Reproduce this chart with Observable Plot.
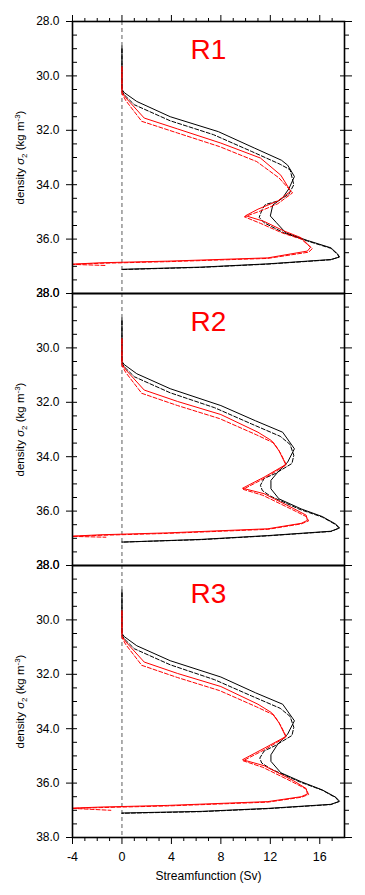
<!DOCTYPE html>
<html><head><meta charset="utf-8">
<script src="https://cdn.jsdelivr.net/npm/d3@7"></script>
<script src="https://cdn.jsdelivr.net/npm/@observablehq/plot@0.6"></script>
<style>
body{margin:0;background:#fff;}
#chart{width:365px;height:895px;}
</style></head><body><div id="chart"></div>
<script>
// ---- data: [streamfunction (Sv), density sigma2] ----
const panels = ["R1", "R2", "R3"];
const xTicksMajor = [-4, 0, 4, 8, 12, 16];
const xTicksMinor = [-3, -2, -1, 1, 2, 3, 5, 6, 7, 9, 10, 11, 13, 14, 15, 17];
const yTicksMajor = [28, 30, 32, 34, 36, 38];
const yTicksMinor = [28.5, 29, 29.5, 30.5, 31, 31.5, 32.5, 33, 33.5, 34.5, 35, 35.5, 36.5, 37, 37.5];

const r1BlackSolid = [[0,28.9],[0,30.5],[0.2,30.62],[1.2,30.94],[3.9,31.5],[7.8,32.05],[10.7,32.65],[12.9,33.1],[13.4,33.28],[13.95,33.7],[13.5,34.15],[13.0,34.48],[12.2,34.75],[12.0,35.15],[12.5,35.4],[13.25,35.77],[15.0,36.05],[16.9,36.32],[17.45,36.55],[17.6,36.66],[16.9,36.75],[11.8,36.91],[6.4,37.03],[0,37.11]];
const r1BlackDashed = [[0,29.0],[0,30.55],[0.2,30.7],[1.0,31.06],[3.9,31.65],[7.4,32.16],[10.5,32.78],[12.8,33.25],[13.6,33.45],[13.9,34.0],[13.5,34.35],[12.6,34.6],[11.6,34.73],[11.35,34.9],[11.1,35.2],[11.5,35.4],[13.1,35.77],[15.0,36.07],[16.9,36.34],[17.45,36.57],[17.55,36.66],[16.9,36.76],[11.8,36.92],[6.4,37.04],[0,37.12]];
const r1RedSolid = [[0,29.65],[0,30.6],[0.3,30.8],[1.8,31.55],[4.5,31.95],[8.0,32.47],[11.2,33.02],[12.85,33.65],[13.65,34.24],[12.6,34.6],[11.0,34.9],[10.0,35.14],[11.5,35.35],[13.1,35.7],[14.5,35.95],[15.25,36.3],[15.0,36.44],[11.8,36.69],[3.7,36.81],[-1.7,36.87],[-4.0,36.92]];
const r1RedDashed = [[0,29.7],[0,30.65],[0.3,30.9],[1.6,31.67],[4.5,32.1],[7.9,32.6],[10.9,33.15],[12.7,33.75],[13.8,34.3],[12.6,34.7],[11.3,34.95],[9.9,35.18],[11.2,35.42],[13.0,35.78],[14.5,36.0],[15.4,36.35],[15.1,36.48],[11.8,36.71],[3.7,36.83],[-1.7,36.89],[-4.0,36.93],[-1.3,36.97]];

const r2BlackSolid = [[0,28.9],[0,30.5],[0.2,30.62],[1.2,30.95],[3.9,31.5],[8.0,32.12],[10.8,32.68],[13.0,33.1],[13.95,33.71],[13.4,34.2],[12.6,34.57],[12.05,34.87],[12.05,35.18],[12.7,35.55],[14.5,35.92],[16.2,36.2],[17.3,36.48],[17.6,36.62],[16.9,36.74],[11.8,36.9],[6.4,37.04],[0,37.14]];
const r2BlackDashed = [[0,29.0],[0,30.55],[0.2,30.7],[1.0,31.06],[3.9,31.65],[7.5,32.2],[10.5,32.8],[12.8,33.25],[13.6,33.55],[13.9,33.95],[13.75,34.25],[12.4,34.62],[11.5,34.8],[11.2,35.05],[11.35,35.24],[12.0,35.45],[14.4,35.94],[16.2,36.22],[17.3,36.5],[17.55,36.63],[16.9,36.75],[11.8,36.91],[6.4,37.05],[0,37.14]];
const r2RedSolid = [[0,29.65],[0,30.6],[0.3,30.8],[1.8,31.55],[4.5,31.97],[8.0,32.45],[11.0,33.1],[12.1,33.41],[12.7,33.78],[13.25,34.29],[11.5,34.75],[9.75,35.16],[11.5,35.36],[13.9,35.91],[14.9,36.15],[15.0,36.34],[14.5,36.45],[11.8,36.65],[3.7,36.8],[-1.7,36.87],[-4.0,36.92]];
const r2RedDashed = [[0,29.7],[0,30.65],[0.3,30.9],[1.6,31.67],[4.5,32.12],[7.9,32.6],[10.9,33.2],[12.3,33.5],[12.8,33.85],[13.3,34.3],[11.5,34.8],[9.8,35.2],[11.4,35.42],[13.8,35.95],[14.9,36.2],[15.1,36.36],[14.5,36.47],[11.8,36.67],[3.7,36.82],[-1.7,36.89],[-4.0,36.93],[-1.3,36.96]];

const r3BlackSolid = [[0,28.9],[0,30.5],[0.2,30.62],[1.2,30.95],[3.9,31.5],[8.0,32.1],[10.8,32.68],[13.0,33.1],[13.95,33.71],[13.4,34.2],[12.6,34.57],[12.05,34.96],[12.05,35.2],[12.85,35.62],[14.5,35.95],[16.2,36.25],[17.3,36.52],[17.6,36.67],[16.9,36.78],[11.8,36.93],[6.4,37.04],[0,37.1]];
const r3BlackDashed = [[0,29.0],[0,30.55],[0.2,30.7],[1.0,31.06],[3.9,31.65],[7.5,32.2],[10.5,32.8],[12.8,33.25],[13.6,33.55],[13.9,33.95],[13.75,34.25],[12.4,34.62],[11.5,34.82],[11.15,35.08],[11.3,35.26],[12.0,35.47],[14.4,35.96],[16.2,36.26],[17.3,36.54],[17.55,36.68],[16.9,36.79],[11.8,36.94],[6.4,37.05],[0,37.11]];
const r3RedSolid = [[0,29.65],[0,30.6],[0.3,30.8],[1.8,31.55],[4.5,31.97],[8.0,32.45],[11.0,33.1],[12.1,33.41],[12.7,33.78],[13.25,34.29],[11.5,34.72],[9.75,35.14],[11.5,35.36],[13.9,35.92],[14.9,36.2],[15.0,36.4],[14.5,36.5],[11.8,36.68],[3.7,36.82],[-1.7,36.88],[-4.0,36.92]];
const r3RedDashed = [[0,29.7],[0,30.65],[0.3,30.9],[1.6,31.67],[4.5,32.12],[7.9,32.6],[10.9,33.2],[12.3,33.5],[12.8,33.85],[13.3,34.3],[11.5,34.78],[9.8,35.18],[11.4,35.42],[13.8,35.96],[14.9,36.22],[15.1,36.42],[14.5,36.52],[11.8,36.7],[3.7,36.84],[-1.7,36.9],[-4.0,36.93],[-0.9,37.0]];

const yLabel = "density σ2 (kg m-3)";
const xLabel = "Streamfunction (Sv)";

// ---- build table ----
const seriesList = [
  ["R1","black",false,r1BlackSolid],["R1","black",true,r1BlackDashed],["R1","red",false,r1RedSolid],["R1","red",true,r1RedDashed],
  ["R2","black",false,r2BlackSolid],["R2","black",true,r2BlackDashed],["R2","red",false,r2RedSolid],["R2","red",true,r2RedDashed],
  ["R3","black",false,r3BlackSolid],["R3","black",true,r3BlackDashed],["R3","red",false,r3RedSolid],["R3","red",true,r3RedDashed]
];
const rows = seriesList.flatMap(([panel, color, dashed, pts]) =>
  pts.map(([sv, sigma]) => ({panel, color, dashed, sv, sigma})));
const pick = (color, dashed) => rows.filter(d => d.color === color && d.dashed === dashed);

const blank = () => "";
const chart = Plot.plot({
  width: 365, height: 895,
  marginLeft: 72, marginRight: 21, marginTop: 19.5, marginBottom: 57,
  style: {fontFamily: "'Liberation Sans', Arial, Helvetica, sans-serif", fontSize: "12px", color: "black", background: "white"},
  x: {domain: [-4, 18], label: null, axis: null},
  y: {domain: [28, 38], reverse: true, label: null, axis: null},
  fy: {domain: panels, padding: 0, axis: null, label: null},
  marks: [
    Plot.ruleX([0], {stroke: "#333", strokeWidth: 0.8, strokeDasharray: "4,3"}),
    Plot.line(pick("black", false), {x: "sv", y: "sigma", fy: "panel", stroke: "black", strokeWidth: 1}),
    Plot.line(pick("black", true), {x: "sv", y: "sigma", fy: "panel", stroke: "black", strokeWidth: 1, strokeDasharray: "4,2"}),
    Plot.line(pick("red", false), {x: "sv", y: "sigma", fy: "panel", stroke: "red", strokeWidth: 1}),
    Plot.line(pick("red", true), {x: "sv", y: "sigma", fy: "panel", stroke: "red", strokeWidth: 1, strokeDasharray: "4,2"}),
    Plot.frame({stroke: "black", strokeWidth: 1.6}),
    // left y axis
    Plot.axisY({anchor: "left", ticks: yTicksMajor, tickSize: 11, dx: 5, tickFormat: blank, label: null}),
    Plot.axisY({anchor: "left", ticks: yTicksMinor, tickSize: 5, dx: 5, tickFormat: blank, label: null}),
    Plot.axisY({anchor: "left", ticks: yTicksMajor, tickSize: 0, tickPadding: 13, tickFormat: d => d.toFixed(1), fontSize: 12, label: null}),
    // right y axis
    Plot.axisY({anchor: "right", ticks: yTicksMajor, tickSize: 12, dx: -5, tickFormat: blank, label: null}),
    Plot.axisY({anchor: "right", ticks: yTicksMinor, tickSize: 4, tickFormat: blank, label: null}),
    // top x axis
    Plot.axisX({anchor: "top", ticks: xTicksMajor, tickSize: 7, tickFormat: blank, label: null}),
    Plot.axisX({anchor: "top", ticks: xTicksMinor, tickSize: 4, tickFormat: blank, label: null}),
    // bottom x axis
    Plot.axisX({anchor: "bottom", ticks: xTicksMajor, tickSize: 7, tickFormat: blank, label: null}),
    Plot.axisX({anchor: "bottom", ticks: xTicksMinor, tickSize: 4, tickFormat: blank, label: null}),
    Plot.axisX({anchor: "bottom", ticks: xTicksMajor, tickSize: 0, tickPadding: 15, tickFormat: d => String(d), fontSize: 12.5, label: null}),
    // panel titles
    Plot.text(panels, {fy: d => d, text: d => d, frameAnchor: "top", lineAnchor: "top", dy: 18, fill: "red", fontSize: 28}),
    // y labels
    Plot.text(panels, {fy: d => d, text: () => yLabel, frameAnchor: "left", dx: -52, rotate: -90, fontSize: 11.5, lineAnchor: "middle", textAnchor: "middle"}),
    // x label
    Plot.text([{p: "R3", t: xLabel}], {fy: "p", text: "t", frameAnchor: "bottom", lineAnchor: "top", dy: 34, fontSize: 12})
  ]
});

// rich formatting of the y label (subscript / superscript)
chart.querySelectorAll("text").forEach(t => {
  if (t.textContent === yLabel) {
    t.textContent = "";
    t.setAttribute("text-anchor", "middle");
    const ns = "http://www.w3.org/2000/svg";
    const add = (s, opts = {}) => {
      const ts = document.createElementNS(ns, "tspan");
      ts.textContent = s;
      for (const k in opts) ts.setAttribute(k, opts[k]);
      t.appendChild(ts);
    };
    add("density ");
    add("σ", {"font-style": "italic"});
    add("2", {"font-size": "8px", dy: "3"});
    add(" (kg m", {dy: "-3"});
    add("-3", {"font-size": "8px", dy: "-4"});
    add(")", {dy: "4"});
  }
});

document.getElementById("chart").appendChild(chart);
</script></body></html>
